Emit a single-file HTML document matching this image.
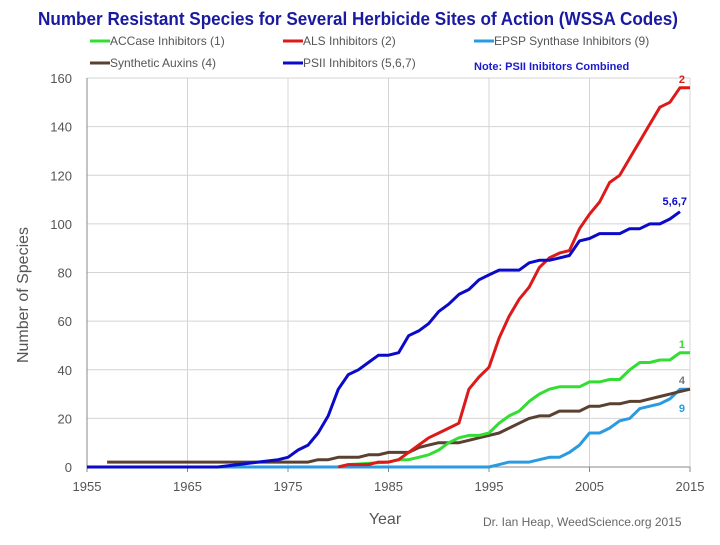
<!DOCTYPE html>
<html><head><meta charset="utf-8"><style>
body{margin:0;background:#fff;width:720px;height:540px;overflow:hidden}
svg text{font-family:"Liberation Sans",sans-serif}
</style></head><body>
<svg id="chart" width="720" height="540">
<text x="358" y="25" text-anchor="middle" font-size="18" font-weight="bold" fill="#1a1aa0" textLength="640" lengthAdjust="spacingAndGlyphs">Number Resistant Species for Several Herbicide Sites of Action (WSSA Codes)</text>
<g id="legend" font-size="12" fill="#555"></g>
<text x="474" y="70" font-size="11" font-weight="bold" fill="#1a1ad0">Note: PSII Inibitors Combined</text>
<g id="grid"></g><g id="axes"></g><g id="series"></g>
<text x="28" y="295" font-size="16" fill="#555" text-anchor="middle" transform="rotate(-90 28 295)">Number of Species</text>
<text x="385" y="524" font-size="16" fill="#555" text-anchor="middle">Year</text>
<text x="483" y="526" font-size="12" fill="#666">Dr. Ian Heap, WeedScience.org  2015</text>
</svg>
<script>
const yTicks=[0,20,40,60,80,100,120,140,160];
const xTicks=[1955,1965,1975,1985,1995,2005,2015];
const psiiYears=[1955,1968,1970,1972,1974,1975,1976,1977,1978,1979,1980,1981,1982,1983,1984,1985,1986,1987,1988,1989,1990,1991,1992,1993,1994,1995,1996,1997,1998,1999,2000,2001,2002,2003,2004,2005,2006,2007,2008,2009,2010,2011,2012,2013,2014];
const psiiVals=[0,0,1,2,3,4,7,9,14,21,32,38,40,43,46,46,47,54,56,59,64,67,71,73,77,79,81,81,81,84,85,85,86,87,93,94,96,96,96,98,98,100,100,102,105];
const alsYears=[1980,1981,1982,1983,1984,1985,1986,1987,1988,1989,1990,1991,1992,1993,1994,1995,1996,1997,1998,1999,2000,2001,2002,2003,2004,2005,2006,2007,2008,2009,2010,2011,2012,2013,2014,2015];
const alsVals=[0,1,1,1,2,2,3,6,9,12,14,16,18,32,37,41,53,62,69,74,82,86,88,89,98,104,109,117,120,127,134,141,148,150,156,156];
const accYears=[1980,1981,1985,1986,1987,1988,1989,1990,1991,1992,1993,1994,1995,1996,1997,1998,1999,2000,2001,2002,2003,2004,2005,2006,2007,2008,2009,2010,2011,2012,2013,2014,2015];
const accVals=[0,1,2,3,3,4,5,7,10,12,13,13,14,18,21,23,27,30,32,33,33,33,35,35,36,36,40,43,43,44,44,47,47];
const auxYears=[1957,1977,1978,1979,1980,1982,1983,1984,1985,1987,1988,1989,1990,1992,1993,1994,1995,1996,1997,1998,1999,2000,2001,2002,2003,2004,2005,2006,2007,2008,2009,2010,2011,2012,2013,2014,2015];
const auxVals=[2,2,3,3,4,4,5,5,6,6,8,9,10,10,11,12,13,14,16,18,20,21,21,23,23,23,25,25,26,26,27,27,28,29,30,31,32];
const epspYears=[1955,1995,1996,1997,1998,1999,2000,2001,2002,2003,2004,2005,2006,2007,2008,2009,2010,2011,2012,2013,2014,2015];
const epspVals=[0,0,1,2,2,2,3,4,4,6,9,14,14,16,19,20,24,25,26,28,32,32];

const NS='http://www.w3.org/2000/svg';
const X=y=>87+(y-1955)*(603/60);
const Y=v=>467-v*(389/160);
function mk(tag,attrs,parent){const e=document.createElementNS(NS,tag);for(const k in attrs)e.setAttribute(k,attrs[k]);parent.appendChild(e);return e;}
const grid=document.getElementById('grid'),axes=document.getElementById('axes'),series=document.getElementById('series'),legend=document.getElementById('legend');
yTicks.forEach(t=>{
  if(t>0){const l=mk('line',{x1:87,x2:690,y1:Y(t),y2:Y(t),stroke:'#d4d4d4','stroke-width':1},grid);
  
  }
  const tx=mk('text',{x:72,y:Y(t)+5,'text-anchor':'end','font-size':13,fill:'#555'},axes);tx.textContent=t;
  
  
});
xTicks.forEach(t=>{
  if(t>1955){const l=mk('line',{x1:X(t),x2:X(t),y1:Y(160),y2:Y(0),stroke:'#d4d4d4','stroke-width':1},grid);
  
  }
  mk('line',{x1:X(t),x2:X(t),y1:Y(0),y2:Y(0)+5,stroke:'#888'},axes);
  const tx=mk('text',{x:X(t),y:Y(0)+24,'text-anchor':'middle','font-size':13,fill:'#555'},axes);tx.textContent=t;
  
  
});
const yl=mk('line',{x1:87,x2:87,y1:Y(160),y2:Y(0),stroke:'#888'},axes);


const xl=mk('line',{x1:87,x2:690,y1:Y(0),y2:Y(0),stroke:'#888'},axes);


function draw(xs,vs,color,name){
  let d='';xs.forEach((x,i)=>{d+=(i?'L':'M')+X(x).toFixed(1)+','+Y(vs[i]).toFixed(1);});
  const p=mk('path',{d:d,fill:'none',stroke:color,'stroke-width':3,'stroke-linejoin':'round'},series);
  
  
}
draw(epspYears,epspVals,'#2a9be0','line-epsp');
draw(auxYears,auxVals,'#5a4030','line-auxins');
draw(accYears,accVals,'#33dd33','line-accase');
draw(alsYears,alsVals,'#dd1a1a','line-als');
draw(psiiYears,psiiVals,'#0a0ac8','line-psii');
function lab(x,y,t,c,n){const e=mk('text',{x:x,y:y,'font-size':11,'font-weight':'bold',fill:c,'text-anchor':'end'},series);e.textContent=t;
  
  }
lab(685,83,'2','#dd1a1a','label-als');
lab(687,205,'5,6,7','#0a0ac8','label-psii');
lab(685,348,'1','#33dd33','label-accase');
lab(685,384,'4','#777','label-auxins');
lab(685,412,'9','#2a9be0','label-epsp');
const leg=[['ACCase Inhibitors (1)','#33dd33',90,45],['ALS Inhibitors (2)','#dd1a1a',283,45],['EPSP Synthase Inhibitors (9)','#2a9be0',474,45],['Synthetic Auxins (4)','#5a4030',90,67],['PSII Inhibitors (5,6,7)','#0a0ac8',283,67]];
leg.forEach(l=>{
  const g=mk('g',{},legend);
  
  
  mk('line',{x1:l[2],x2:l[2]+20,y1:l[3]-4,y2:l[3]-4,stroke:l[1],'stroke-width':3},g);
  const t=mk('text',{x:l[2]+20,y:l[3]},g);t.textContent=l[0];
});
</script>
</body></html>
